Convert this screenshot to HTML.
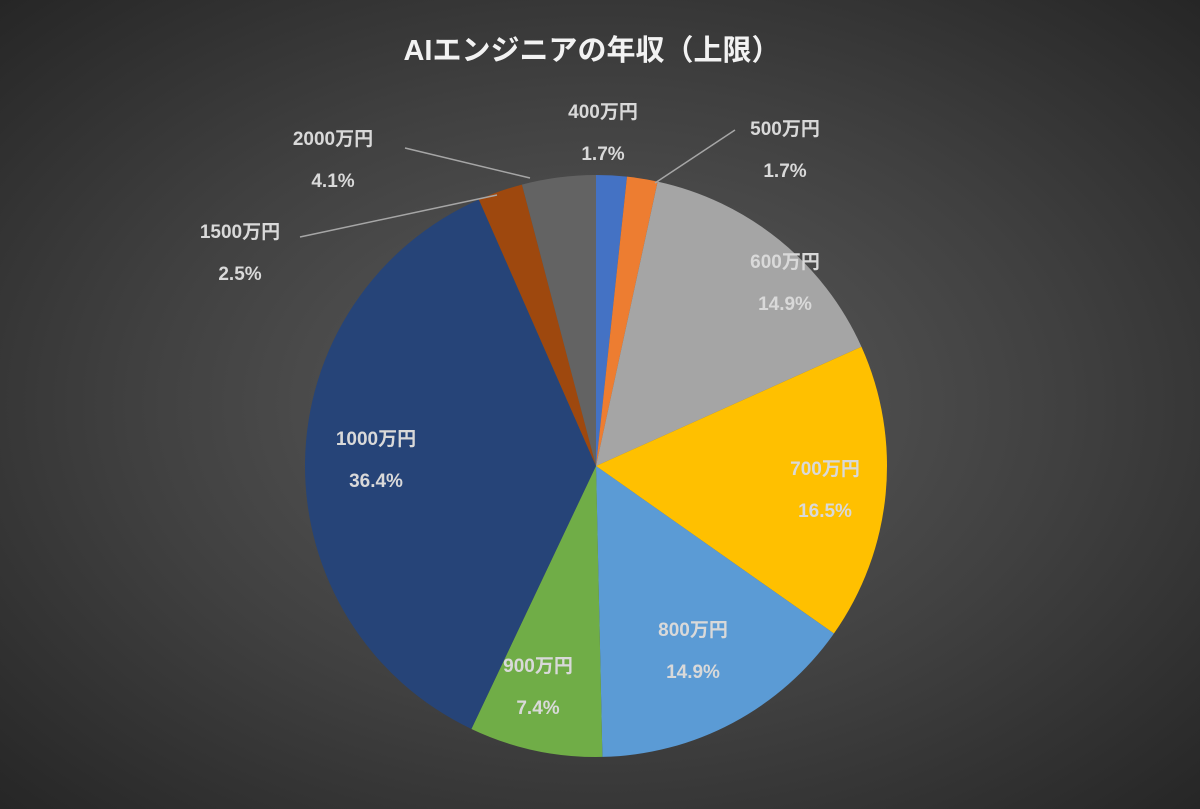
<!DOCTYPE html>
<html><head><meta charset="utf-8">
<style>
html,body{margin:0;padding:0;}
body{width:1200px;height:809px;overflow:hidden;background:radial-gradient(ellipse at 50% 50%,#5c5c5c 0%,#404040 55%,#262626 100%);font-family:"Liberation Sans","Noto Sans CJK JP",sans-serif;}
svg{display:block;}
text{font-family:"Liberation Sans","Noto Sans CJK JP",sans-serif;}
</style></head>
<body>
<svg id="chart" width="1200" height="809">
<text x="592" y="60" text-anchor="middle" font-size="29" font-weight="bold" fill="#f2f2f2">AIエンジニアの年収（上限）</text>
<g id="slices"></g>
<g id="leaders"></g>
<g id="labels"></g>
</svg>
<script>
const categories=["400万円","500万円","600万円","700万円","800万円","900万円","1000万円","1500万円","2000万円"];
const values=[1.7,1.7,14.9,16.5,14.9,7.4,36.4,2.5,4.1];
const valueLabels=["1.7%","1.7%","14.9%","16.5%","14.9%","7.4%","36.4%","2.5%","4.1%"];
const colors=["#4472c4","#ed7d31","#a5a5a5","#ffc000","#5b9bd5","#70ad47","#264478","#9e480e","#636363"];
const labelPos=[[603,118],[785,135],[785,268],[825,475],[693,636],[538,672],[376,445],[240,238],[333,145]];
const leaderPts=[null,[[655,183],[735,130]],null,null,null,null,null,[[497,195],[300,237]],[[530,178],[405,148]]];
const cx=596,cy=466,r=291;
const NS="http://www.w3.org/2000/svg";
const total=values.reduce((a,b)=>a+b,0);
function pt(a,rr){return [cx+rr*Math.sin(a),cy-rr*Math.cos(a)];}
let acc=0;
const sg=document.getElementById('slices'),lg=document.getElementById('labels'),ll=document.getElementById('leaders');
values.forEach((v,i)=>{
  const a0=acc/total*2*Math.PI;acc+=v;const a1=acc/total*2*Math.PI;
  const p0=pt(a0,r),p1=pt(a1,r);const large=(a1-a0)>Math.PI?1:0;
  const p=document.createElementNS(NS,'path');
  p.setAttribute('d',`M${cx},${cy} L${p0[0]},${p0[1]} A${r},${r} 0 ${large} 1 ${p1[0]},${p1[1]} Z`);
  p.setAttribute('fill',colors[i]);
  
  
  sg.appendChild(p);
  const lp=labelPos[i];
  const t=document.createElementNS(NS,'text');
  t.setAttribute('x',lp[0]);t.setAttribute('y',lp[1]);
  t.setAttribute('text-anchor','middle');t.setAttribute('font-size','19');t.setAttribute('font-weight','bold');t.setAttribute('fill','#d9d9d9');
  
  
  const s1=document.createElementNS(NS,'tspan');s1.setAttribute('x',lp[0]);s1.textContent=categories[i];
  const s2=document.createElementNS(NS,'tspan');s2.setAttribute('x',lp[0]);s2.setAttribute('dy','42');s2.textContent=valueLabels[i];
  t.appendChild(s1);t.appendChild(s2);lg.appendChild(t);
  if(leaderPts[i]){
    const l=document.createElementNS(NS,'polyline');
    l.setAttribute('points',leaderPts[i].map(q=>q.join(',')).join(' '));
    l.setAttribute('fill','none');l.setAttribute('stroke','#a6a6a6');l.setAttribute('stroke-width','1.5');
    
    
    ll.appendChild(l);
  }
});
</script>
</body></html>
